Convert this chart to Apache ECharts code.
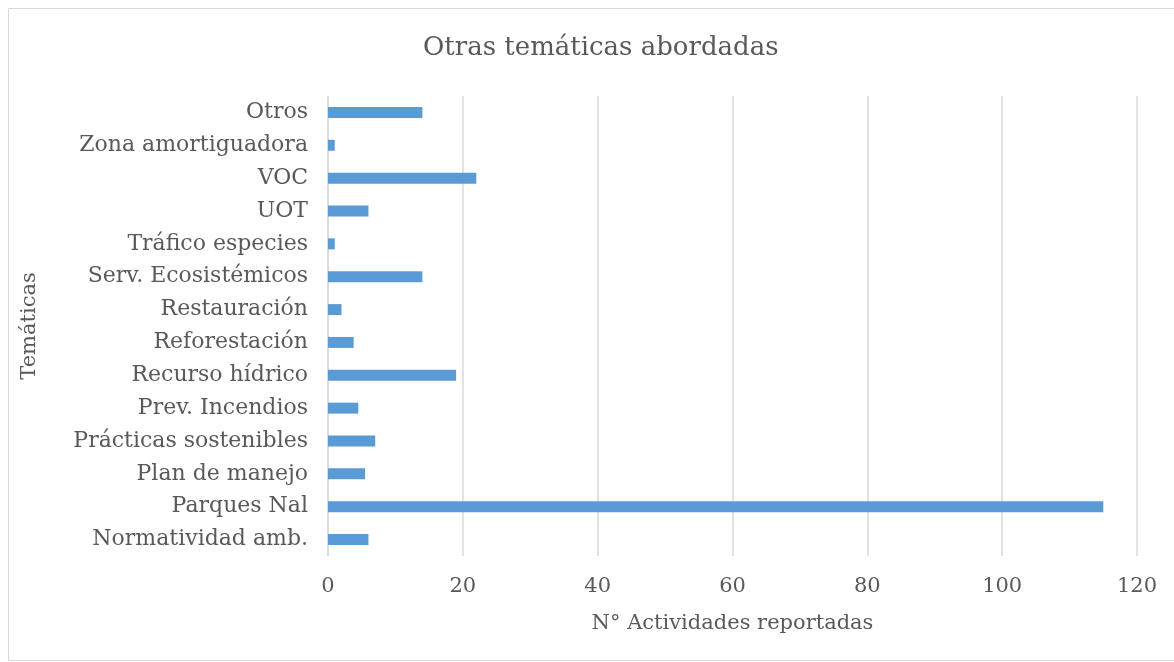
<!DOCTYPE html>
<html>
<head>
<meta charset="utf-8">
<script src="https://cdn.jsdelivr.net/npm/echarts@6/dist/echarts.min.js"></script>
<style>
  html, body { margin: 0; padding: 0; background: #fff; }
  #chart { width: 1174px; height: 662px; }
</style>
</head>
<body>
<div id="chart"></div>
<script>
// categories, bottom to top as the axis draws them
var tematicas = ['Normatividad amb.', 'Parques Nal', 'Plan de manejo', 'Prácticas sostenibles',
    'Prev. Incendios', 'Recurso hídrico', 'Reforestación', 'Restauración',
    'Serv. Ecosistémicos', 'Tráfico especies', 'UOT', 'VOC', 'Zona amortiguadora', 'Otros'];
var actividades = [6, 115, 5.5, 7, 4.5, 19, 3.8, 2, 14, 1, 6, 22, 1, 14];
var ticksX = [0, 20, 40, 60, 80, 100, 120];

var fuente = 'DejaVu Serif';
var gris = '#595959';

var chart = echarts.init(document.getElementById('chart'));
var option = {
    backgroundColor: '#fff',
    animation: false,
    title: {
        text: 'Otras temáticas abordadas',
        left: 418,
        top: 30,
        textStyle: { fontFamily: fuente, fontSize: 26, fontWeight: 'normal', color: gris }
    },
    graphic: [{
        type: 'rect',
        shape: { x: 8.5, y: 8.5, width: 1170, height: 652 },
        style: { fill: null, stroke: '#d9d9d9', lineWidth: 1 }
    }],
    grid: { left: 328, right: 37, top: 96, bottom: 106 },
    xAxis: {
        type: 'value',
        min: ticksX[0],
        max: ticksX[ticksX.length - 1],
        interval: 20,
        name: 'N° Actividades reportadas',
        nameLocation: 'middle',
        nameGap: 57,
        nameTextStyle: { fontFamily: fuente, fontSize: 21, color: gris },
        axisLine: { show: false },
        axisTick: { show: false },
        axisLabel: { fontFamily: fuente, fontSize: 21, color: gris, margin: 20 },
        splitLine: { lineStyle: { color: '#d9d9d9', width: 1.5 } }
    },
    yAxis: {
        type: 'category',
        data: tematicas,
        name: 'Temáticas',
        nameLocation: 'middle',
        nameGap: 288,
        nameRotate: 90,
        nameTextStyle: { fontFamily: fuente, fontSize: 21, color: gris },
        axisLine: { show: true, lineStyle: { color: '#d9d9d9', width: 1.5 } },
        axisTick: { show: false },
        axisLabel: { fontFamily: fuente, fontSize: 22, color: gris, margin: 20 }
    },
    series: [{
        type: 'bar',
        data: actividades,
        barWidth: 11,
        itemStyle: { color: '#5b9bd5' }
    }]
};
chart.setOption(option);
</script>
</body>
</html>
